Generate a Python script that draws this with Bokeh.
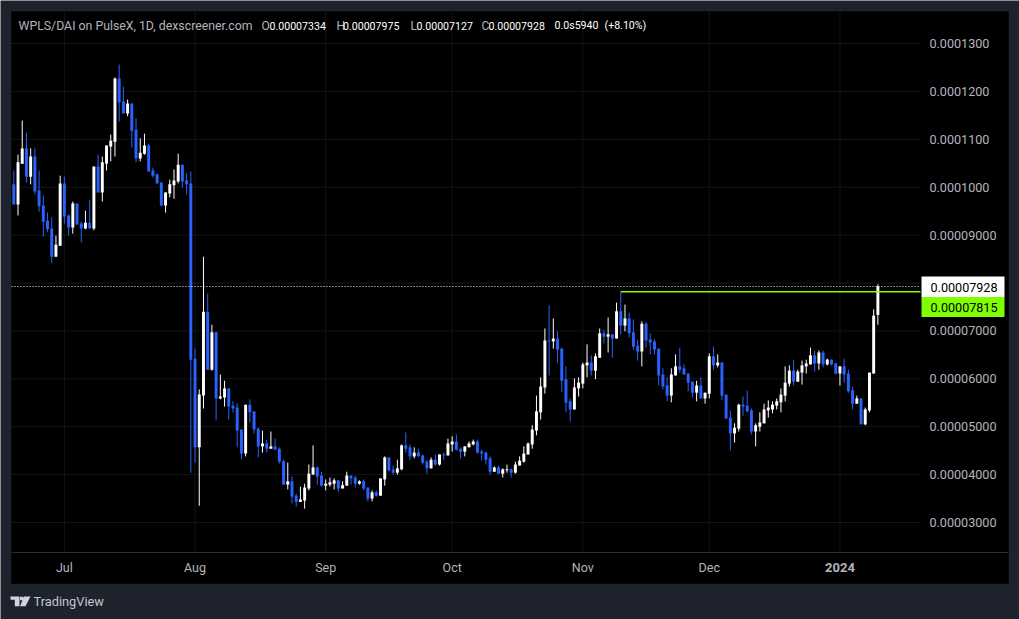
from bokeh.embed import file_html
from bokeh.resources import INLINE
from bokeh.plotting import figure
from bokeh.models import (BoxAnnotation, ColumnDataSource, FixedTicker, Label,
                          PolyAnnotation, Range1d)

# prices are in units of 0.00001 DAI; one entry per daily candle, 2023-06-19 .. 2024-01-10
opens = [10.06,9.64,10.49,10.81,10.22,10.64,9.93,9.62,9.30,9.14,
8.55,8.78,10.08,9.41,9.16,9.66,9.24,9.14,9.26,9.14,
10.43,9.89,10.49,10.85,10.95,12.27,11.79,11.54,11.75,11.20,
10.60,10.70,10.87,10.35,10.27,10.10,9.62,9.87,10.04,10.12,
10.47,10.14,10.08,6.42,4.57,5.65,7.40,6.19,6.97,5.59,
5.61,5.80,5.44,5.40,4.94,4.44,5.46,5.32,4.96,4.59,
4.65,4.54,4.59,4.54,4.28,3.79,3.86,3.56,3.43,3.46,
3.71,4.00,4.15,3.98,3.77,3.79,3.81,3.88,3.71,3.77,
3.98,3.94,3.81,3.86,3.73,3.50,3.63,3.56,3.90,4.36,
4.11,4.04,4.11,4.61,4.57,4.38,4.46,4.40,4.27,4.13,
4.31,4.21,4.42,4.40,4.63,4.69,4.54,4.48,4.57,4.63,
4.69,4.48,4.46,4.34,4.06,4.15,4.02,4.09,4.11,4.04,
4.19,4.27,4.42,4.63,4.92,5.30,5.82,6.80,6.78,6.84,
6.63,5.99,5.53,5.36,5.80,5.90,6.28,6.34,6.17,6.44,
6.95,6.88,6.93,6.84,7.41,7.11,7.26,6.97,6.69,6.57,
7.15,6.82,6.78,6.63,6.09,5.86,5.65,6.07,6.26,6.22,
6.11,5.94,5.71,5.86,5.59,5.69,6.47,6.28,6.34,5.67,
5.19,4.86,4.96,5.46,5.44,5.34,4.90,5.00,5.07,5.34,
5.36,5.44,5.51,5.65,5.90,6.17,5.94,6.13,6.26,6.30,
6.49,6.32,6.55,6.30,6.40,6.32,6.11,6.26,6.11,5.76,
5.48,5.59,5.05,5.34,6.11,7.334]
highs = [10.35,10.68,11.39,11.14,10.81,10.81,10.35,9.83,9.47,9.37,
8.99,10.24,10.22,9.43,9.70,9.66,9.28,9.51,9.74,10.43,
10.68,10.64,10.87,11.10,12.29,12.56,12.10,11.83,11.75,11.44,
11.02,11.12,10.91,10.41,10.29,10.10,9.89,10.16,10.37,10.70,
10.47,10.29,10.33,6.63,5.78,8.55,7.78,7.13,6.97,6.09,
5.96,5.80,5.53,5.49,4.94,5.46,5.57,5.32,4.98,4.92,
4.73,4.90,4.75,4.57,4.31,4.25,3.96,3.60,3.75,3.81,
4.21,4.61,4.17,4.06,3.90,3.94,3.92,3.88,3.86,4.06,
3.98,3.98,3.88,3.90,3.73,3.67,3.67,3.92,4.38,4.36,
4.19,4.31,4.63,4.88,4.63,4.57,4.54,4.42,4.31,4.36,
4.42,4.42,4.46,4.75,4.80,4.84,4.57,4.59,4.69,4.73,
4.73,4.52,4.48,4.38,4.17,4.19,4.13,4.21,4.13,4.27,
4.38,4.59,4.67,5.03,5.65,6.03,7.05,7.53,7.26,6.99,
6.65,6.26,5.59,6.01,6.03,6.34,6.72,6.49,6.53,7.05,
7.03,7.28,6.93,7.59,7.815,7.55,7.38,7.24,6.82,7.20,
7.18,6.95,6.82,6.63,6.22,6.03,6.22,6.51,6.65,6.30,
6.11,5.94,5.96,6.03,5.71,6.53,6.67,6.51,6.34,5.67,
5.34,5.07,5.48,5.63,5.76,5.38,5.07,5.30,5.48,5.55,
5.53,5.59,5.80,6.26,6.28,6.40,6.19,6.38,6.40,6.65,
6.59,6.59,6.59,6.42,6.40,6.34,6.26,6.42,6.19,5.84,
5.65,5.59,5.40,6.13,7.45,7.975]
lows = [9.64,9.41,10.49,10.10,10.06,9.85,9.49,8.97,9.06,8.41,
8.55,8.78,9.24,8.99,9.03,9.22,8.85,9.12,9.14,9.10,
9.89,9.70,10.35,10.54,10.64,11.37,11.54,11.48,10.83,10.52,
10.54,10.68,10.33,10.20,10.08,9.60,9.47,9.79,9.76,10.08,
9.99,9.85,4.04,4.25,3.35,5.38,6.19,6.17,5.13,5.57,
5.42,5.15,5.30,4.57,4.32,4.38,5.09,4.86,4.36,4.46,
4.46,4.54,4.52,4.23,3.79,3.69,3.40,3.33,3.43,3.29,
3.67,4.00,3.79,3.75,3.67,3.75,3.69,3.63,3.71,3.77,
3.79,3.73,3.79,3.67,3.44,3.44,3.54,3.56,3.77,4.06,
4.00,4.00,4.09,4.46,4.31,4.34,4.38,4.21,4.02,4.13,
4.19,4.19,4.31,4.40,4.48,4.50,4.34,4.38,4.57,4.61,
4.44,4.29,4.21,4.00,4.06,4.02,3.94,4.04,3.94,4.02,
4.19,4.25,4.42,4.54,4.82,5.15,5.69,6.07,6.63,6.34,
5.73,5.30,5.11,5.36,5.63,5.80,6.03,6.07,5.99,6.44,
6.74,6.55,6.44,6.84,6.93,6.99,6.86,6.61,6.38,6.26,
6.65,6.51,6.51,5.86,5.78,5.53,5.51,6.07,6.13,6.09,
5.74,5.61,5.53,5.59,5.48,5.59,6.19,6.24,5.55,5.17,
4.50,4.67,4.90,5.23,5.30,4.84,4.59,4.90,5.07,5.19,
5.28,5.36,5.30,5.53,5.84,5.86,5.94,5.88,6.11,6.30,
6.15,6.19,6.24,6.28,6.28,6.09,5.86,5.92,5.71,5.36,
5.48,5.05,5.03,5.30,6.11,7.127]
closes = [9.64,10.52,10.81,10.22,10.64,9.91,9.60,9.28,9.12,8.55,
8.80,10.08,9.39,9.16,9.66,9.22,9.14,9.26,9.14,10.43,
9.89,10.52,10.87,10.97,12.27,11.77,11.54,11.75,11.18,10.60,
10.72,10.87,10.33,10.24,10.08,9.62,9.89,10.06,10.14,10.47,
10.12,10.06,6.40,4.57,5.67,7.40,6.19,6.97,5.59,5.63,
5.80,5.42,5.38,4.92,4.44,5.46,5.30,4.94,4.59,4.65,
4.54,4.59,4.52,4.27,3.79,3.86,3.54,3.43,3.48,3.73,
4.02,4.15,3.96,3.77,3.81,3.84,3.88,3.71,3.78,3.98,
3.92,3.81,3.86,3.71,3.50,3.63,3.56,3.92,4.36,4.09,
4.04,4.13,4.61,4.54,4.38,4.46,4.38,4.25,4.13,4.31,
4.21,4.42,4.40,4.65,4.69,4.52,4.48,4.59,4.65,4.69,
4.46,4.44,4.31,4.06,4.15,4.02,4.11,4.11,4.04,4.21,
4.29,4.44,4.65,4.94,5.32,5.84,6.80,6.78,6.84,6.61,
5.96,5.50,5.36,5.82,5.92,6.30,6.34,6.17,6.47,6.95,
6.88,6.93,6.84,7.41,7.11,7.26,6.95,6.67,6.57,7.15,
6.80,6.76,6.61,6.07,5.84,5.65,6.09,6.26,6.19,6.09,
5.92,5.71,5.86,5.59,5.71,6.47,6.28,6.34,5.65,5.17,
4.86,4.98,5.46,5.42,5.32,4.90,5.03,5.09,5.36,5.40,
5.46,5.53,5.67,5.92,6.17,5.94,6.15,6.28,6.32,6.49,
6.32,6.55,6.30,6.40,6.30,6.11,6.26,6.09,5.74,5.48,
5.59,5.05,5.36,6.13,7.32,7.928]

month_ticks = [12, 43, 74, 104, 135, 165]
month_labels = ["Jul", "Aug", "Sep", "Oct", "Nov", "Dec"]
year_tick = 196
year_label = "2024"
price_ticks = [3, 4, 5, 6, 7, 9, 10, 11, 12, 13]
price_labels = ["0.00003000", "0.00004000", "0.00005000", "0.00006000", "0.00007000",
                "0.00009000", "0.0001000", "0.0001100", "0.0001200", "0.0001300"]
grid_prices = [3, 4, 5, 6, 7, 8, 9, 10, 11, 12, 13]
last_price = 7.928
last_label = "0.00007928"
level_price = 7.815
level_start = 144
level_label = "0.00007815"
title_text = "WPLS/DAI on PulseX, 1D, dexscreener.com"
ohlc_names = ["O", "H", "L", "C"]
ohlc_values = ["0.00007334", "0.00007975", "0.00007127", "0.00007928"]
change_abs = "0.0s5940"
change_pct = "(+8.10%)"
brand = "TradingView"

BG = "#1e222d"
EDGE = "#2a2e39"
GRID = "#141414"
BLUE = "#2962ff"
GREY = "#b2b5be"
GREEN = "#80ff00"
FONT = "Roboto"

# data extent of the price pane and of the whole page
PANE_LEFT, PANE_RIGHT, PANE_BOTTOM, PANE_TOP = -0.546, 215.1, 2.374, 13.668
PAGE_X = (-3.155, 238.6)
PAGE_Y = (0.975, 13.898)
AXIS_END = 236.0

idx = list(range(len(opens)))
src = ColumnDataSource(dict(
    x=idx, h=highs, l=lows,
    top=[max(o, c) for o, c in zip(opens, closes)],
    bot=[min(o, c) for o, c in zip(opens, closes)],
    color=["#ffffff" if c >= o else BLUE for o, c in zip(opens, closes)],
))

p = figure(width=1019, height=619, output_backend="svg", toolbar_location=None,
           x_range=Range1d(*PAGE_X), y_range=Range1d(*PAGE_Y),
           min_border_left=0, min_border_top=0, min_border_right=0, min_border_bottom=0,
           background_fill_color=BG, border_fill_color=BG, outline_line_color=None,
           y_axis_location="right")
p.grid.visible = False


def box(left, right, top, bottom, fill, line=None, width=1, level="annotation"):
    p.add_layout(BoxAnnotation(left=left, right=right, top=top, bottom=bottom,
                               left_units="canvas", right_units="canvas",
                               top_units="canvas", bottom_units="canvas",
                               fill_color=fill, fill_alpha=1, line_color=line, line_width=width,
                               level=level, editable=False))


def txt(x, y, s, color=GREY, size="12px", style="normal", align="left"):
    p.add_layout(Label(x=x, y=y, x_units="canvas", y_units="canvas", text=s,
                       text_color=color, text_font=FONT, text_font_size=size,
                       text_font_style=style, text_align=align, text_baseline="middle"))


# black panel behind the pane and the axes
box(10.5, 1008.5, 10.5, 583.5, "#000000", EDGE, 1, "image")

xa = p.xaxis[0]
xa.fixed_location = PANE_BOTTOM
xa.bounds = (PANE_LEFT, AXIS_END)
xa.ticker = FixedTicker(ticks=month_ticks)
xa.major_label_overrides = dict(zip(month_ticks, month_labels))
xa.major_label_text_color = GREY
xa.major_label_text_font = FONT
xa.major_label_text_font_size = "12.5px"
xa.major_label_standoff = 8
xa.major_tick_in = 0
xa.major_tick_out = 0
xa.major_tick_line_color = None
xa.minor_tick_line_color = None
xa.axis_line_color = EDGE
xa.axis_line_width = 1

ya = p.yaxis[0]
ya.fixed_location = PANE_RIGHT
ya.ticker = FixedTicker(ticks=price_ticks)
ya.major_label_overrides = dict(zip(price_ticks, price_labels))
ya.major_label_text_color = GREY
ya.major_label_text_font = FONT
ya.major_label_text_font_size = "12.6px"
ya.major_label_standoff = 9
ya.major_tick_in = 0
ya.major_tick_out = 0
ya.major_tick_line_color = None
ya.minor_tick_line_color = None
ya.axis_line_color = None

v_grid = month_ticks + [year_tick]
p.segment(v_grid, [PANE_BOTTOM] * len(v_grid), v_grid, [PANE_TOP] * len(v_grid),
          color=GRID, line_width=1)
p.segment([PANE_LEFT] * len(grid_prices), grid_prices, [PANE_RIGHT] * len(grid_prices), grid_prices,
          color=GRID, line_width=1)

p.segment("x", "h", "x", "l", source=src, color="color", line_width=1)
p.vbar("x", 0.7, "bot", "top", source=src, fill_color="color", line_color=None)

dots = p.segment([PANE_LEFT], [last_price], [PANE_RIGHT], [last_price], color="#ffffff", line_width=1)
dots.glyph.line_dash = [1, 2]
p.segment([level_start], [level_price], [PANE_RIGHT], [level_price], color=GREEN, line_width=1.5)

# year label on the time axis
p.add_layout(Label(x=year_tick, y=567, x_units="data", y_units="canvas", text=year_label,
                   text_color=GREY, text_font=FONT, text_font_size="13px",
                   text_font_style="bold", text_align="center", text_baseline="middle"))

# last-price and level tags
box(921, 1004, 276, 296.5, "#ffffff")
box(921, 1004, 296.5, 316.5, GREEN)
txt(930, 286.5, last_label, "#000000", "12.6px")
txt(930, 307, level_label, "#000000", "12.6px")

# header
txt(18, 25, title_text, GREY, "12.3px")
for nx, vx, n, v in zip([261, 336, 410, 481], [269, 342.5, 416, 488], ohlc_names, ohlc_values):
    txt(nx, 25, n, GREY, "12px")
    txt(vx, 25, v, "#ffffff", "10.6px")
txt(554, 25, change_abs, "#ffffff", "10.6px")
txt(604, 25, change_pct, "#ffffff", "10.6px")

# brand mark
for xs, ys in [([10, 19, 19, 14.3, 14.3, 10], [596, 596, 605.7, 605.7, 599.3, 599.3]),
               ([23.5, 30, 25, 19.5], [596, 596, 605.7, 605.7])]:
    p.add_layout(PolyAnnotation(xs=xs, ys=ys, xs_units="canvas", ys_units="canvas",
                                fill_color="#d1d4dc", fill_alpha=1, line_color=None,
                                editable=False))
box(19.5, 23, 596.2, 599.8, "#d1d4dc")
txt(33, 601, brand, "#c4c7d0", "12.8px")

open("out.html", "w").write(file_html(p, INLINE))
